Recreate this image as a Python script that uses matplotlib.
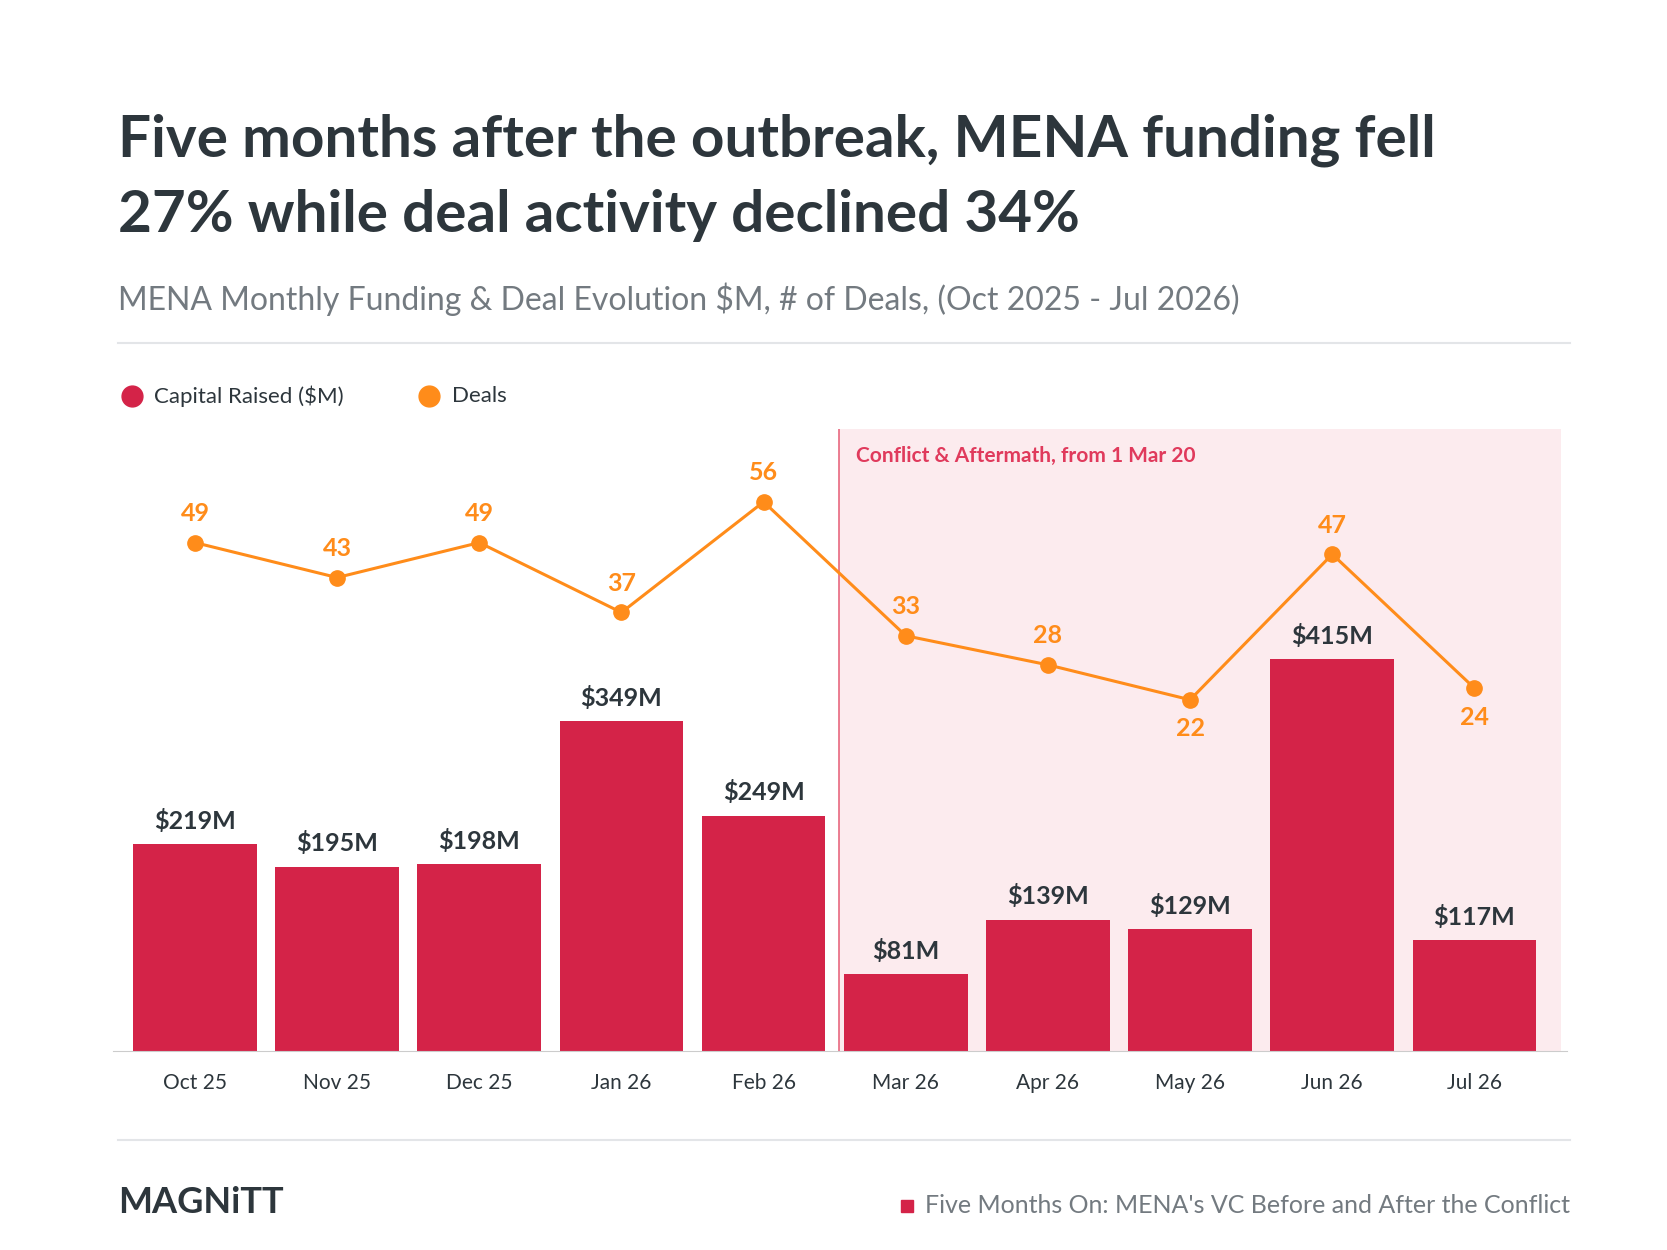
import matplotlib.pyplot as plt
from matplotlib.lines import Line2D

plt.rcParams['font.family'] = ['Lato', 'DejaVu Sans']

months = ["Oct 25", "Nov 25", "Dec 25", "Jan 26", "Feb 26",
          "Mar 26", "Apr 26", "May 26", "Jun 26", "Jul 26"]
capital = [219, 195, 198, 349, 249, 81, 139, 129, 415, 117]
deals = [49, 43, 49, 37, 56, 33, 28, 22, 47, 24]
deal_below = [False] * 7 + [True, False, True]

RED = "#D42348"
ORANGE = "#FF8C1A"
DARK = "#2D363C"
GREY = "#737A80"

W, H = 1548, 1161
fig = plt.figure(figsize=(16.67, 12.5), dpi=100)

def fx(x):
    return x / W

def fy(y):
    return 1 - y / H

# header
fig.text(fx(110), fy(130), "Five months after the outbreak, MENA funding fell",
         fontsize=42, fontweight="bold", color=DARK, va="center")
fig.text(fx(110), fy(200), "27% while deal activity declined 34%",
         fontsize=42, fontweight="bold", color=DARK, va="center")
fig.text(fx(110), fy(278), "MENA Monthly Funding & Deal Evolution $M, # of Deals, (Oct 2025 - Jul 2026)",
         fontsize=23, color=GREY, va="center")
for yy in (319, 1059):
    fig.add_artist(Line2D([fx(110), fx(1458)], [fy(yy), fy(yy)], color="#E3E5E8", lw=1.5))

# legend
fig.add_artist(Line2D([fx(123)], [fy(368)], marker="o", ms=15, color=RED, lw=0))
fig.text(fx(143), fy(368), "Capital Raised ($M)", fontsize=16, color=DARK, va="center")
fig.add_artist(Line2D([fx(398)], [fy(368)], marker="o", ms=15, color=ORANGE, lw=0))
fig.text(fx(420), fy(368), "Deals", fontsize=16, color=DARK, va="center")

ax = fig.add_axes([fx(105), fy(976), fx(1455) - fx(105), fy(398) - fy(976)])
x = list(range(len(months)))
ax.axvspan(4.53, 9.61, color="#FCEBEE", lw=0, zorder=0)
ax.axvline(4.53, color="#E8687F", lw=1.2, zorder=1)
ax.bar(x, capital, width=0.87, color=RED, zorder=2)
for xi, v in zip(x, capital):
    ax.text(xi, v + 12, f"${v}M", ha="center", va="bottom", fontsize=18,
            fontweight="bold", color=DARK)
ax.set_xlim(-0.576, 9.65)
ax.set_ylim(0, 659)
ax.set_yticks([])
ax.set_xticks(x)
ax.set_xticklabels(months, fontsize=15, color=DARK)
ax.tick_params(axis="x", length=0, pad=16)
for s in ["top", "right", "left"]:
    ax.spines[s].set_visible(False)
ax.spines["bottom"].set_color("#CCCCCC")
ax.text(4.65, 640, "Conflict & Aftermath, from 1 Mar 20", fontsize=15,
        fontweight="bold", color="#E03A5C", va="top")

ax2 = ax.twinx()
ax2.plot(x, deals, color=ORANGE, lw=2.2, marker="o", ms=11, zorder=3)
ax2.set_ylim(-38.3, 68.6)
ax2.axis("off")
for xi, v, below in zip(x, deals, deal_below):
    if below:
        ax2.text(xi, v - 3, str(v), ha="center", va="top", fontsize=18,
                 fontweight="bold", color=ORANGE)
    else:
        ax2.text(xi, v + 3, str(v), ha="center", va="bottom", fontsize=18,
                 fontweight="bold", color=ORANGE)

# footer
fig.text(fx(110), fy(1117), "MAGNiTT", fontsize=26, fontweight="bold",
         color=DARK, va="center")
fig.text(fx(1458), fy(1120), "Five Months On: MENA's VC Before and After the Conflict",
         fontsize=18, color=GREY, va="center", ha="right")
fig.add_artist(Line2D([fx(842)], [fy(1120)], marker="s", ms=9, color=RED, lw=0))

fig.savefig("out.png", dpi=100, facecolor="white")
